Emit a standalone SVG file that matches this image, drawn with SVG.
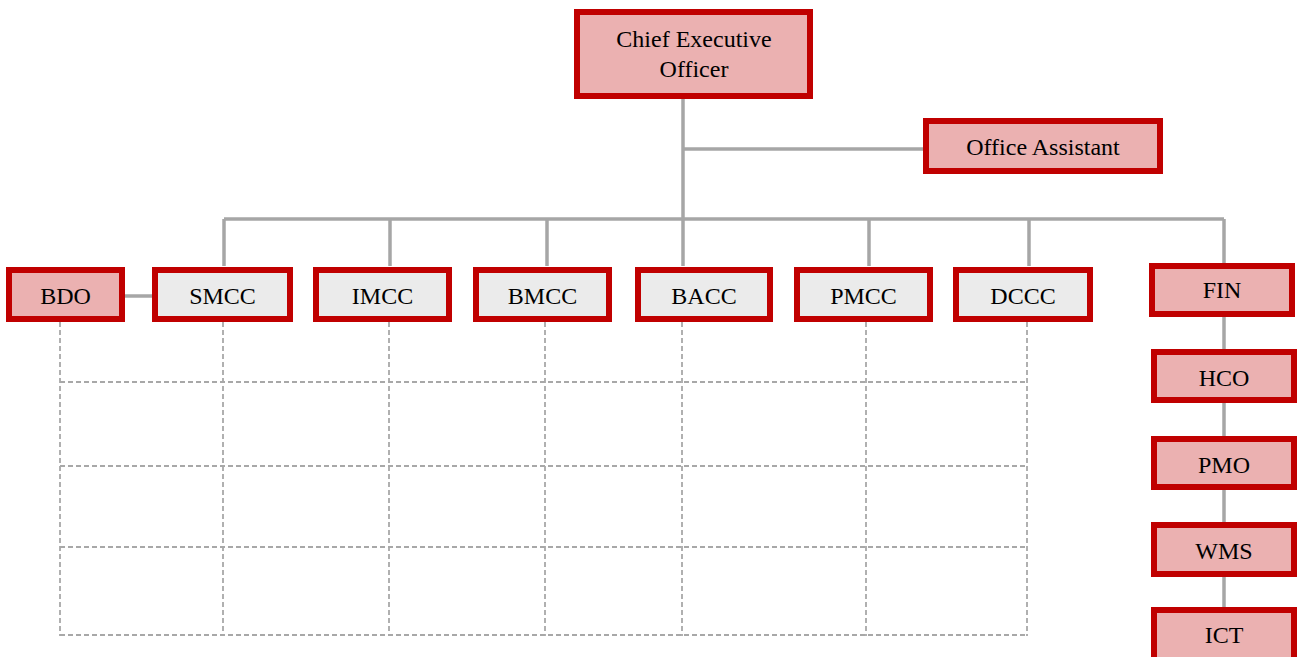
<svg xmlns="http://www.w3.org/2000/svg" width="1297" height="657" viewBox="0 0 1297 657">
  <style>
    .box rect { stroke: #C00000; stroke-width: 6; }
    .pink { fill: #EBB1B1; }
    .grey { fill: #EBEBEB; }
    text { font-family: "Liberation Serif", "Times New Roman", serif; font-size: 24px; fill: #000; text-anchor: middle; }
    .link { stroke: #A6A6A6; stroke-width: 3.5; fill: none; }
    .grid { stroke: #A8A8A8; stroke-width: 1.8; stroke-dasharray: 5 3; fill: none; }
  </style>
  <rect width="1297" height="657" fill="#FFFFFF"/>

  <!-- dashed grid under the departments -->
  <g id="grid">
    <path class="grid" d="M60 322V636 M223 322V636 M389 322V636 M545 322V636 M682 322V636 M866 322V636 M1027 322V636"/>
    <path class="grid" d="M60 382H1027 M60 466H1027 M60 547H1027 M60 635H1027"/>
  </g>

  <!-- connectors -->
  <g id="connectors">
    <path class="link" d="M683 98V219 M683 149H924"/>
    <path class="link" d="M224 219H1224 M224 219V266 M390 219V266 M547 219V266 M683 219V266 M869 219V266 M1029 219V266 M1224 219V263"/>
    <path class="link" d="M123 296H153"/>
    <path class="link" d="M1224 317V349 M1224 403V436 M1224 490V522 M1224 577V607"/>
  </g>

  <g id="ceo" class="box">
    <rect class="pink" x="577" y="12" width="233" height="84"/>
    <text x="694" y="47">Chief Executive</text>
    <text x="694" y="77">Officer</text>
  </g>
  <g id="office-assistant" class="box">
    <rect class="pink" x="926" y="121" width="234" height="50"/>
    <text x="1043" y="155">Office Assistant</text>
  </g>

  <g id="bdo" class="box">
    <rect class="pink" x="9" y="270" width="113" height="49"/>
    <text x="65.5" y="304">BDO</text>
  </g>
  <g id="smcc" class="box">
    <rect class="grey" x="155" y="270" width="135" height="49"/>
    <text x="222.5" y="304">SMCC</text>
  </g>
  <g id="imcc" class="box">
    <rect class="grey" x="316" y="270" width="133" height="49"/>
    <text x="382.5" y="304">IMCC</text>
  </g>
  <g id="bmcc" class="box">
    <rect class="grey" x="476" y="270" width="133" height="49"/>
    <text x="542.5" y="304">BMCC</text>
  </g>
  <g id="bacc" class="box">
    <rect class="grey" x="638" y="270" width="132" height="49"/>
    <text x="704" y="304">BACC</text>
  </g>
  <g id="pmcc" class="box">
    <rect class="grey" x="797" y="270" width="133" height="49"/>
    <text x="863.5" y="304">PMCC</text>
  </g>
  <g id="dccc" class="box">
    <rect class="grey" x="956" y="270" width="134" height="49"/>
    <text x="1023" y="304">DCCC</text>
  </g>

  <g id="fin" class="box">
    <rect class="pink" x="1152" y="266" width="140" height="48"/>
    <text x="1222" y="298">FIN</text>
  </g>
  <g id="hco" class="box">
    <rect class="pink" x="1154" y="352" width="140" height="48"/>
    <text x="1224" y="386">HCO</text>
  </g>
  <g id="pmo" class="box">
    <rect class="pink" x="1154" y="439" width="140" height="48"/>
    <text x="1224" y="473">PMO</text>
  </g>
  <g id="wms" class="box">
    <rect class="pink" x="1154" y="525" width="140" height="49"/>
    <text x="1224" y="559">WMS</text>
  </g>
  <g id="ict" class="box">
    <rect class="pink" x="1154" y="610" width="140" height="52"/>
    <text x="1224" y="643">ICT</text>
  </g>
</svg>
